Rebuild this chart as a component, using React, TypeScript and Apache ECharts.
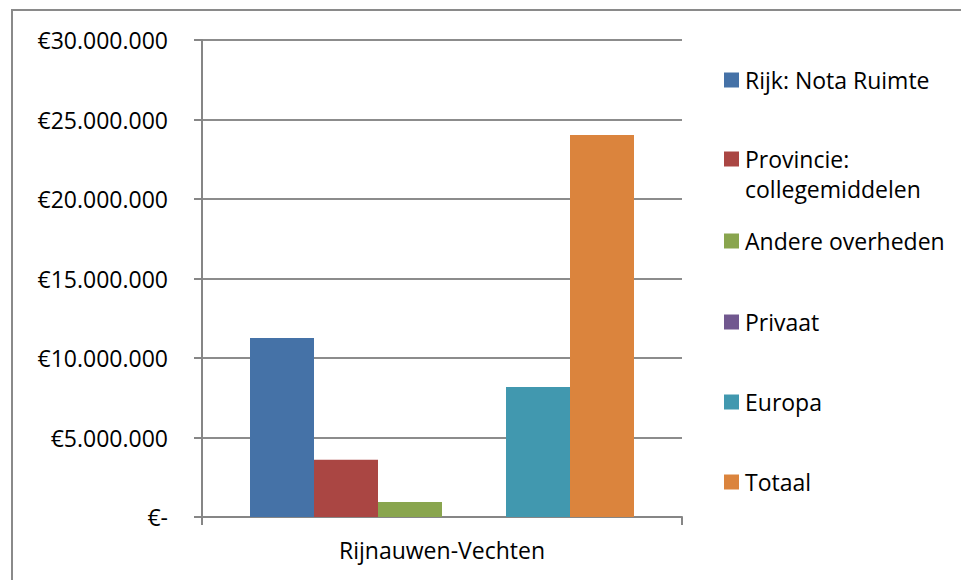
import React, { useEffect, useRef } from "react";
import * as echarts from "echarts";

const categories = ["Rijnauwen-Vechten"];
const seriesNames = [
  "Rijk: Nota Ruimte",
  "Provincie: collegemiddelen",
  "Andere overheden",
  "Privaat",
  "Europa",
  "Totaal",
];
const rijk = [11260000];
const provincie = [3600000];
const andere = [950000];
const privaat = [0];
const europa = [8180000];
const totaal = [24030000];
const seriesValues = [rijk, provincie, andere, privaat, europa, totaal];
const colors = ["#4572A7", "#AA4643", "#89A54E", "#71588F", "#4198AF", "#DB843D"];

const FONT = "Open Sans";
const FS = 23;

function fmt(v: number): string {
  if (v === 0) return "€-";
  return "€" + String(Math.round(v)).replace(/\B(?=(\d{3})+(?!\d))/g, ".");
}

export default function App() {
  const ref = useRef<HTMLDivElement>(null);
  useEffect(() => {
    document.body.style.margin = "0";
    const chart = echarts.init(ref.current!, null, { renderer: "svg" });
    const legendCenters = [80, 159, 241, 322, 402, 482];
    const legends = seriesNames.map((name, i) => ({
      show: true,
      orient: "vertical" as const,
      left: 724,
      top: legendCenters[i] - 12,
      padding: 0,
      itemWidth: 15,
      itemHeight: 15,
      itemGap: 6,
      icon: "rect",
      selectedMode: false,
      data: [name],
      formatter: (n: string) => (n === "Provincie: collegemiddelen" ? "Provincie:" : n),
      textStyle: { fontFamily: FONT, fontSize: FS, lineHeight: 24, color: "#000", padding: [0, 0, 0, 1] },
    }));
    chart.setOption({
      animation: false,
      backgroundColor: "#fff",
      color: colors,
      legend: legends,
      graphic: [
        {
          type: "rect",
          shape: { x: 12, y: 10, width: 2000, height: 2000 },
          style: { fill: "none", stroke: "#8a8a8a", lineWidth: 2 },
        },
        {
          type: "text",
          x: 745,
          y: 189,
          style: {
            text: "collegemiddelen",
            font: `${FS}px "${FONT}"`,
            fill: "#000",
            verticalAlign: "middle",
            align: "left",
          },
        },
      ],
      grid: { left: 202, right: 279, top: 40, bottom: 63, containLabel: false },
      xAxis: {
        type: "category",
        data: categories,
        axisLine: { lineStyle: { color: "#868686", width: 2 } },
        axisTick: { show: true, length: 8, lineStyle: { color: "#868686", width: 2 } },
        axisLabel: { fontFamily: FONT, fontSize: FS, color: "#000", margin: 21 },
      },
      yAxis: {
        type: "value",
        min: 0,
        max: 30000000,
        interval: 5000000,
        axisLine: { show: true, lineStyle: { color: "#868686", width: 2 } },
        axisTick: { show: true, length: 8, lineStyle: { color: "#868686", width: 2 } },
        splitLine: { lineStyle: { color: "#8c8c8c", width: 2 } },
        axisLabel: { fontFamily: FONT, fontSize: FS, color: "#000", margin: 34, formatter: fmt },
      },
      series: seriesNames.map((name, i) => ({
        name,
        type: "bar",
        data: seriesValues[i],
        barGap: "0%",
        barCategoryGap: "20%",
        itemStyle: { color: colors[i] },
      })),
    });
    return () => chart.dispose();
  }, []);
  return (
    <div
      ref={ref}
      style={{ position: "fixed", left: 0, top: 0, width: 961, height: 580 }}
    />
  );
}
